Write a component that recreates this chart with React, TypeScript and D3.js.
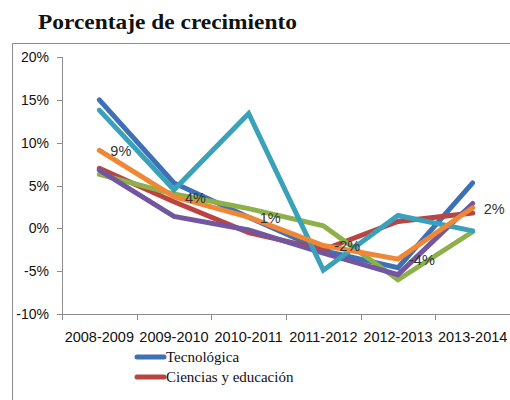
import React from "react";
import * as d3 from "d3";

const categories = ["2008-2009", "2009-2010", "2010-2011", "2011-2012", "2012-2013", "2013-2014"];
const yTicks = [-10, -5, 0, 5, 10, 15, 20];

const tecnologica = [15.0, 5.3, 1.3, -2.6, -4.6, 5.3];
const ciencias = [7.0, 3.1, -0.5, -2.5, 0.8, 1.8];
const serie3 = [6.3, 4.0, 2.3, 0.3, -6.0, -0.4];
const serie4 = [6.8, 1.4, -0.2, -2.9, -5.4, 2.9];
const serie5 = [13.8, 4.5, 13.4, -4.9, 1.5, -0.3];
const serie6 = [9.1, 3.7, 1.3, -2.0, -3.6, 2.4];
const labelValues = ["9%", "4%", "1%", "-2%", "-4%", "2%"];

const seriesNames = ["Tecnológica", "Ciencias y educación", "Serie 3", "Serie 4", "Serie 5", "Serie 6"];
const seriesValues = [tecnologica, ciencias, serie3, serie4, serie5, serie6];
const seriesColors = ["#3E70B6", "#B94441", "#8DB04A", "#7257A0", "#3AA1BA", "#EE8836"];
const legendCount = 2;

export default function App() {
  const W = 510, H = 400;
  const x = d3.scaleBand<string>().domain(categories).range([62, 510]);
  const y = d3.scaleLinear().domain([-10, 20]).range([314, 57]);
  const cx = (c: string) => (x(c) ?? 0) + x.bandwidth() / 2;
  const line = d3.line<number>().x((_, i) => cx(categories[i])).y((d) => y(d));
  const sans = "'Liberation Sans', Arial, sans-serif";
  const serif = "'Liberation Serif', 'Times New Roman', serif";
  const boundaries = d3.range(categories.length + 1).map((i) => 62 + i * x.bandwidth());
  return (
    <svg width={W} height={H} style={{ position: "absolute", left: 0, top: 0, background: "#fff" }}>
      <text x={38} y={29} fontFamily={serif} fontWeight="bold" fontSize={22} fill="#111" textLength={259} lengthAdjust="spacingAndGlyphs">
        Porcentaje de crecimiento
      </text>
      <path d={`M12.5,${H} V43.5 H${W}`} fill="none" stroke="#8c8c8c" strokeWidth={1} />
      {/* y axis */}
      <line x1={62.5} x2={62.5} y1={y(20)} y2={y(-10)} stroke="#8c8c8c" />
      {yTicks.map((t) => (
        <g key={t}>
          <line x1={57} x2={62.5} y1={Math.round(y(t)) + 0.5} y2={Math.round(y(t)) + 0.5} stroke="#8c8c8c" />
          <text x={49} y={y(t) + 5} textAnchor="end" fontFamily={sans} fontSize={14} fill="#111">
            {t}%
          </text>
        </g>
      ))}
      {/* x axis */}
      <line x1={62} x2={510} y1={314.5} y2={314.5} stroke="#8c8c8c" />
      {boundaries.map((b, i) => (
        <line key={i} x1={Math.round(b) + 0.5} x2={Math.round(b) + 0.5} y1={314.5} y2={320} stroke="#8c8c8c" />
      ))}
      {categories.map((c) => (
        <text key={c} x={cx(c)} y={342} textAnchor="middle" fontFamily={sans} fontSize={14.5} fill="#111">
          {c}
        </text>
      ))}
      {/* series */}
      {seriesValues.map((vals, si) => (
        <path
          key={si}
          d={line(vals) ?? ""}
          fill="none"
          stroke={seriesColors[si]}
          strokeWidth={5}
          strokeLinecap="round"
          strokeLinejoin="miter"
        />
      ))}
      {/* data labels */}
      {serie6.map((v, i) => (
        <text key={i} x={cx(categories[i]) + 11} y={y(v) + 6} fontFamily={sans} fontSize={14.5} fill="#333">
          {labelValues[i]}
        </text>
      ))}
      {/* legend */}
      {seriesNames.slice(0, legendCount).map((n, i) => (
        <g key={n}>
          <line x1={137} x2={164} y1={357 + i * 20} y2={357 + i * 20} stroke={seriesColors[i]} strokeWidth={5} strokeLinecap="round" />
          <text x={166} y={362 + i * 20} fontFamily={serif} fontSize={15} fill="#111">
            {n}
          </text>
        </g>
      ))}
    </svg>
  );
}
